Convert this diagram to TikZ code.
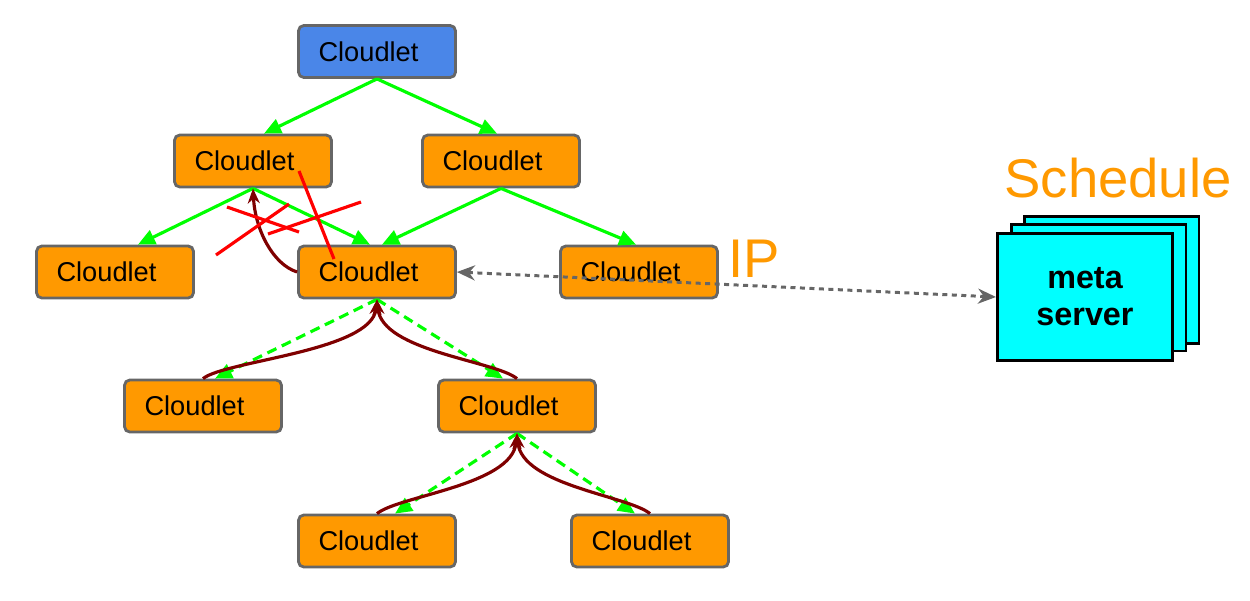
\documentclass[tikz,border=0pt]{standalone}
\usepackage{fontspec}
\setmainfont{Liberation Sans}
\usepackage{tikz}
\usetikzlibrary{arrows.meta}

\definecolor{cOrange}{HTML}{FF9900}
\definecolor{cBlue}{HTML}{4A86E8}
\definecolor{cCyan}{HTML}{00FFFF}
\definecolor{cGreen}{HTML}{00FF00}
\definecolor{cMaroon}{HTML}{7F0000}
\definecolor{cRed}{HTML}{FF0000}
\definecolor{cGrey}{HTML}{666666}

\begin{document}
\begin{tikzpicture}[
      x=0.02cm, y=-0.02cm,
      cldbox/.style  = {rectangle, rounded corners=3pt, draw=cGrey, line width=1.6pt,
                        fill=cOrange, text width=2.34cm, align=left, inner xsep=0.4cm,
                        minimum height=1.04cm, font=\fontsize{15.5}{18}\selectfont},
      rootbox/.style = {cldbox, fill=cBlue},
      srvbox/.style  = {rectangle, draw=black, line width=1.7pt, fill=cCyan,
                        minimum width=3.5cm, minimum height=2.54cm, align=center,
                        font=\fontsize{18.4}{21}\selectfont\bfseries},
      tree/.style    = {-{Triangle[length=0.34cm, width=0.3cm]}, draw=cGreen, line width=1.8pt},
      push/.style    = {tree, dash pattern=on 0.2cm off 0.12cm},
      ret/.style     = {-{Stealth[length=0.3cm, width=0.24cm]}, draw=cMaroon, line width=1.8pt},
      cutmark/.style = {draw=cRed, line width=1.8pt},
      link/.style    = {{Stealth[length=0.36cm, width=0.3cm]}-{Stealth[length=0.36cm, width=0.3cm]},
                        draw=cGrey, line width=1.7pt, dash pattern=on 0.1cm off 0.09cm},
      big/.style     = {text=cOrange, font=\fontsize{31}{36}\selectfont},
    ]
    \useasboundingbox (0,0) rectangle (1250,600);

    %% ------------------------------------------------ cloudlet tree
    \node[rootbox] (cl0)  at (377, 51.5) {Cloudlet};
    \node[cldbox]  (cl1a) at (253, 161) {Cloudlet};
    \node[cldbox]  (cl1b) at (501, 161) {Cloudlet};
    \node[cldbox]  (cl2a) at (115, 272) {Cloudlet};
    \node[cldbox]  (cl2b) at (377, 272) {Cloudlet};
    \node[cldbox]  (cl2c) at (639, 272) {Cloudlet};
    \node[cldbox]  (cl3a) at (203, 406) {Cloudlet};
    \node[cldbox]  (cl3b) at (517, 406) {Cloudlet};
    \node[cldbox]  (cl4a) at (377, 541) {Cloudlet};
    \node[cldbox]  (cl4b) at (650, 541) {Cloudlet};

    %% ------------------------------------------------ meta server stack
    \node[srvbox] (srv3) at (1111.5, 280) {};
    \node[srvbox] (srv2) at (1098.5, 287.5) {};
    \node[srvbox] (srv)  at (1085, 297) {meta\\server};
    \node[big] (sched) at (1118, 178) {Schedule};
    \node[big] (ip)    at (754, 259) {IP};

    %% ------------------------------------------------ tree links
    \draw[tree] (cl0.south)  -- ([xshift=0.22cm]cl1a.north);
    \draw[tree] (cl0.south)  -- ([xshift=-0.08cm]cl1b.north);
    \draw[tree] (cl1a.south) -- ([xshift=0.46cm]cl2a.north);
    \draw[tree] (cl1a.south) -- ([xshift=-0.14cm]cl2b.north);
    \draw[tree] (cl1b.south) -- ([xshift=0.1cm]cl2b.north);
    \draw[tree] (cl1b.south) -- ([xshift=-0.06cm]cl2c.north);

    \draw[push] (cl2b.south) -- ([xshift=0.24cm]cl3a.north);
    \draw[push] (cl2b.south) -- ([xshift=-0.28cm]cl3b.north);
    \draw[push] (cl3b.south) -- ([xshift=0.36cm]cl4a.north);
    \draw[push] (cl3b.south) -- ([xshift=-0.3cm]cl4b.north);

    %% ------------------------------------------------ replies going up
    \draw[ret] (cl3a.north) .. controls +(22,-18) and +(-5,52) .. (cl2b.south);
    \draw[ret] (cl3b.north) .. controls +(-22,-18) and +(5,52) .. (cl2b.south);
    \draw[ret] (cl4a.north) .. controls +(22,-18) and +(-5,52) .. (cl3b.south);
    \draw[ret] (cl4b.north) .. controls +(-22,-18) and +(5,52) .. (cl3b.south);
    \draw[ret] (cl2b.west)  .. controls +(-25,-8) and +(2,40) .. (cl1a.south);

    %% ------------------------------------------------ cut links
    \draw[cutmark] (227,207) -- (299,232);
    \draw[cutmark] (216,255) -- (289,204);
    \draw[cutmark] (268,234) -- (361,202);
    \draw[cutmark] (299,171) -- (334,259);

    %% ------------------------------------------------ IP to meta server
    \draw[link] (cl2b.east) -- (srv.west);
  \end{tikzpicture}
\end{document}
